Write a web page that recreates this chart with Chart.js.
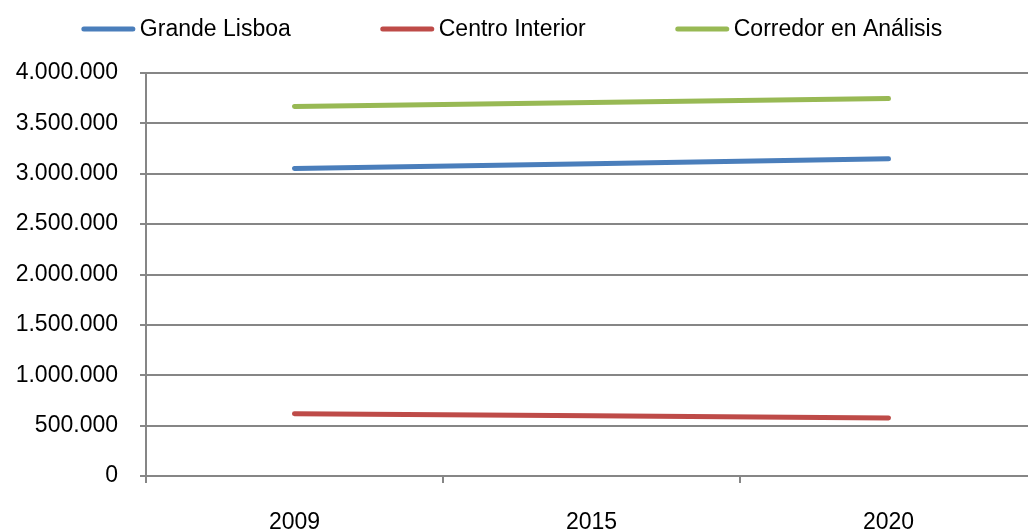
<!DOCTYPE html>
<html>
<head>
<meta charset="utf-8">
<script src="https://cdn.jsdelivr.net/npm/chart.js@4"></script>
<style>
  html, body { margin: 0; padding: 0; background: #fff; overflow: hidden; }
  #wrap { width: 1037px; height: 529px; }
</style>
</head>
<body>
<div id="wrap"><canvas id="myChart" width="1037" height="529"></canvas></div>
<script>
const years = ['2009', '2015', '2020'];
const grandeLisboa = [3052000, 3100000, 3148000];
const centroInterior = [619000, 598000, 576000];
const corredor = [3667000, 3707000, 3747000];
const yTicks = [0, 500000, 1000000, 1500000, 2000000, 2500000, 3000000, 3500000, 4000000];

const gridColor = '#868686';
const fontFamily = "'Liberation Sans', Arial, sans-serif";
const font = { family: fontFamily, size: 23 };

function fmt(v) {
    return String(v).replace(/\B(?=(\d{3})+(?!\d))/g, '.');
}

// Excel-like legend: short thick line, then the label, wide gaps between items
const topLegend = {
    id: 'topLegend',
    afterDraw(chart) {
        const ctx = chart.ctx;
        const lineW = 53, gap = 5, space = 90, cy = 29;
        ctx.save();
        ctx.font = '23px ' + fontFamily;
        const items = chart.data.datasets.map(ds => ({
            ds: ds,
            w: lineW + gap + ctx.measureText(ds.label).width
        }));
        const total = items.reduce((a, it) => a + it.w, 0) + space * (items.length - 1);
        let x = 512 - total / 2;
        items.forEach(it => {
            ctx.strokeStyle = it.ds.borderColor;
            ctx.lineWidth = 5;
            ctx.lineCap = 'round';
            ctx.beginPath();
            ctx.moveTo(x + 2, cy);
            ctx.lineTo(x + lineW - 2, cy);
            ctx.stroke();
            ctx.fillStyle = '#000';
            ctx.textBaseline = 'middle';
            ctx.fillText(it.ds.label, x + lineW + gap, cy + 1);
            x += it.w + space;
        });
        ctx.restore();
    }
};

const data = {
    labels: years,
    datasets: [{
        label: 'Grande Lisboa',
        data: grandeLisboa,
        borderColor: '#4A7EBB',
        backgroundColor: '#4A7EBB',
        borderWidth: 5,
        borderCapStyle: 'round',
        pointRadius: 0,
        tension: 0
    }, {
        label: 'Centro Interior',
        data: centroInterior,
        borderColor: '#BE4B48',
        backgroundColor: '#BE4B48',
        borderWidth: 5,
        borderCapStyle: 'round',
        pointRadius: 0,
        tension: 0
    }, {
        label: 'Corredor en Análisis',
        data: corredor,
        borderColor: '#98B954',
        backgroundColor: '#98B954',
        borderWidth: 5,
        borderCapStyle: 'round',
        pointRadius: 0,
        tension: 0
    }]
};

const config = {
    type: 'line',
    data: data,
    plugins: [topLegend],
    options: {
        responsive: false,
        animation: false,
        layout: { padding: { left: 0, right: 0, top: 73, bottom: 0 } },
        plugins: {
            tooltip: { enabled: false },
            legend: { display: false }
        },
        scales: {
            x: {
                offset: true,
                grid: {
                    offset: true,
                    drawOnChartArea: false,
                    drawTicks: true,
                    tickLength: 7,
                    color: gridColor,
                    lineWidth: 2
                },
                border: { color: gridColor, width: 2 },
                ticks: { color: '#000', font: font, padding: 26, maxRotation: 0 },
                afterFit: s => { s.height = 53; }
            },
            y: {
                min: 0,
                max: 4000000,
                afterBuildTicks: s => { s.ticks = yTicks.map(v => ({ value: v })); },
                grid: {
                    color: gridColor,
                    lineWidth: 2,
                    tickLength: 6
                },
                border: { color: gridColor, width: 2 },
                ticks: {
                    color: '#000',
                    font: font,
                    padding: 22,
                    callback: v => fmt(v)
                },
                afterFit: s => { s.width = 146; }
            }
        }
    }
};

const myChart = new Chart(document.getElementById('myChart'), config);
</script>
</body>
</html>
